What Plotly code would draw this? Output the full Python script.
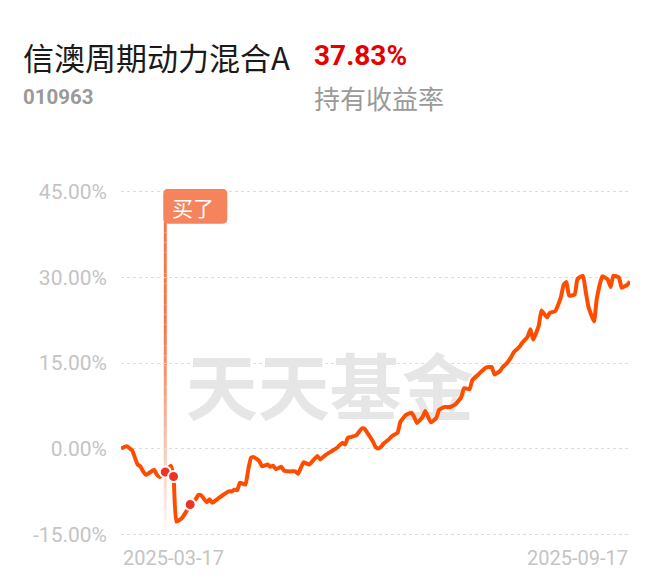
import plotly.graph_objects as go
import pandas as pd

# ---------------- data ----------------
dates = [
    "2025-03-17", "2025-03-19", "2025-03-21", "2025-03-23", "2025-03-24", "2025-03-25",
    "2025-03-26", "2025-03-28", "2025-03-29", "2025-03-30", "2025-03-31", "2025-04-02",
    "2025-04-04", "2025-04-05", "2025-04-06", "2025-04-08", "2025-04-10", "2025-04-11",
    "2025-04-13", "2025-04-14", "2025-04-15", "2025-04-17", "2025-04-18", "2025-04-19",
    "2025-04-21", "2025-04-23", "2025-04-25", "2025-04-26", "2025-04-27", "2025-04-28",
    "2025-04-29", "2025-05-01", "2025-05-02", "2025-05-03", "2025-05-04", "2025-05-06",
    "2025-05-07", "2025-05-09", "2025-05-10", "2025-05-11", "2025-05-12", "2025-05-14",
    "2025-05-15", "2025-05-17", "2025-05-19", "2025-05-20", "2025-05-21", "2025-05-22",
    "2025-05-24", "2025-05-27", "2025-05-28", "2025-05-30", "2025-06-01", "2025-06-03",
    "2025-06-05", "2025-06-06", "2025-06-07", "2025-06-08", "2025-06-10", "2025-06-12",
    "2025-06-13", "2025-06-14", "2025-06-16", "2025-06-17", "2025-06-18", "2025-06-19",
    "2025-06-20", "2025-06-22", "2025-06-23", "2025-06-25", "2025-06-26", "2025-06-28",
    "2025-06-30", "2025-07-01", "2025-07-02", "2025-07-04", "2025-07-05", "2025-07-07",
    "2025-07-09", "2025-07-10", "2025-07-12", "2025-07-14", "2025-07-16", "2025-07-18",
    "2025-07-19", "2025-07-21", "2025-07-22", "2025-07-24", "2025-07-25", "2025-07-27",
    "2025-07-29", "2025-07-30", "2025-08-01", "2025-08-02", "2025-08-03", "2025-08-05",
    "2025-08-06", "2025-08-08", "2025-08-09", "2025-08-11", "2025-08-12", "2025-08-13",
    "2025-08-15", "2025-08-16", "2025-08-18", "2025-08-19", "2025-08-21", "2025-08-23",
    "2025-08-24", "2025-08-25", "2025-08-26", "2025-08-28", "2025-08-29", "2025-08-31",
    "2025-09-01", "2025-09-02", "2025-09-04", "2025-09-05", "2025-09-07", "2025-09-09",
    "2025-09-10", "2025-09-11", "2025-09-13", "2025-09-14", "2025-09-16", "2025-09-17",
]
returns = [
    0.0, 0.4, -0.3, -2.8, -3.1, -4.0,
    -4.6, -4.0, -3.7, -4.6, -5.0, -4.1,
    -3.0, -4.9, -12.8, -12.2, -10.7, -9.8,
    -8.9, -8.1, -8.2, -9.4, -8.9, -9.5,
    -8.8, -8.1, -7.5, -7.5, -7.2, -7.3,
    -6.0, -6.3, -3.7, -1.6, -1.5, -2.2,
    -3.1, -2.8, -3.2, -3.0, -3.6, -3.2,
    -3.9, -4.0, -4.0, -4.4, -3.4, -2.4,
    -2.8, -1.3, -1.9, -1.1, -0.5, 0.1,
    1.0, 0.7, 1.9, 2.0, 2.3, 3.5,
    3.5, 2.8, 1.3, 0.3, 0.0, 0.3,
    0.9, 1.7, 2.2, 2.8, 4.7, 5.9,
    6.3, 5.5, 4.5, 5.5, 6.6, 4.6,
    5.4, 6.8, 7.3, 7.3, 7.8, 9.0,
    10.6, 10.4, 12.0, 12.9, 13.4, 14.2,
    14.3, 13.0, 13.6, 14.3, 14.7, 16.0,
    16.9, 17.8, 18.5, 19.6, 20.9, 19.1,
    21.5, 24.2, 23.0, 23.8, 24.1, 26.5,
    28.7, 29.2, 26.8, 27.0, 29.7, 30.3,
    27.5, 24.8, 22.3, 26.3, 30.2, 29.6,
    28.3, 30.3, 30.0, 28.2, 28.7, 29.3,
]
buy_date = "2025-04-02"
trade_dates = ["2025-04-02", "2025-04-05", "2025-04-11"]
y_ticks = [-15, 0, 15, 30, 45]
y_tick_labels = ["-15.00%", "0.00%", "15.00%", "30.00%", "45.00%"]
x_labels = ["2025-03-17", "2025-09-17"]

fund_name = "信澳周期动力混合A"
fund_code = "010963"
hold_return = "37.83%"
hold_label = "持有收益率"
buy_text = "买了"
watermark = "天天基金"

# ---------------- layout constants ----------------
OFF = 8                      # page body margin of the browser
W, H = 660 - OFF, 585 - OFF
L, R, T, B = 121 - OFF, 30, 189 - OFF, 48
PW, PH = W - L - R, H - T - B
Y_RANGE = [-15.5, 45.5]

def px_x(px):
    return (px - OFF - L) / PW

def px_y(py):
    return (H - B - (py - OFF)) / PH

def val_at_py(py):
    return Y_RANGE[1] - (py - OFF - T) / PH * (Y_RANGE[1] - Y_RANGE[0])

trade_vals = [returns[dates.index(d)] for d in trade_dates]

d0, d1 = pd.Timestamp(dates[0]), pd.Timestamp(dates[-1])
wm_x = d0 + (d1 - d0) * 0.41

fig = go.Figure()

# watermark (below the line)
fig.add_trace(go.Scatter(
    x=[wm_x], y=[val_at_py(396)], mode="text", text=[watermark],
    textfont=dict(family="Noto Sans CJK SC", size=72, color="#e6e6e6", weight="bold"),
    hoverinfo="skip", showlegend=False,
))

# main line
fig.add_trace(go.Scatter(
    x=dates, y=returns, mode="lines",
    line=dict(color="#ff4d00", width=4, shape="spline", smoothing=0.4),
    hoverinfo="skip", showlegend=False,
))

# trade dots
fig.add_trace(go.Scatter(
    x=trade_dates, y=trade_vals, mode="markers",
    marker=dict(color="#ee3322", size=11, line=dict(color="white", width=2)),
    hoverinfo="skip", showlegend=False,
))

shapes = []
# gradient buy line
top_v, bot_v = val_at_py(222), val_at_py(530)
n = 30
for i in range(n):
    a = top_v + (bot_v - top_v) * i / n
    b = top_v + (bot_v - top_v) * (i + 1) / n
    t = (i + 0.5) / n
    op = 1.0 if t < 0.35 else max(0.04, 1.0 - (t - 0.35) / 0.65 * 0.96)
    shapes.append(dict(type="line", xref="x", yref="y", x0=buy_date, x1=buy_date,
                       y0=a, y1=b, line=dict(color="#f47a4a", width=3),
                       opacity=op, layer="below"))

# rounded label box
x0, x1, y0, y1, r = -2, 62, -32, 3, 5
path = (f"M {x0+r},{y0} L {x1-r},{y0} Q {x1},{y0} {x1},{y0+r} L {x1},{y1-r} "
        f"Q {x1},{y1} {x1-r},{y1} L {x0+r},{y1} Q {x0},{y1} {x0},{y1-r} "
        f"L {x0},{y0+r} Q {x0},{y0} {x0+r},{y0} Z")
shapes.append(dict(type="path", xref="x", yref="y", xsizemode="pixel", ysizemode="pixel",
                   xanchor=buy_date, yanchor=45, path=path,
                   fillcolor="#f5845c", line=dict(width=0), layer="above"))

annotations = [
    dict(text=buy_text, x=buy_date, xref="x", y=px_y(206.5), yref="paper",
         xanchor="left", yanchor="middle", xshift=5, showarrow=False,
         font=dict(family="Noto Sans CJK SC", size=21, color="white")),
    dict(text=fund_name, x=px_x(21), y=px_y(57), xref="paper", yref="paper",
         xanchor="left", yanchor="middle", showarrow=False,
         font=dict(family="Noto Sans CJK SC", size=31, color="#1a1a1a")),
    dict(text=f"<b>{hold_return}</b>", x=px_x(312), y=px_y(55), xref="paper", yref="paper",
         xanchor="left", yanchor="middle", showarrow=False,
         font=dict(family="Roboto", size=28, color="#e60000")),
    dict(text=f"<b>{fund_code}</b>", x=px_x(21), y=px_y(97), xref="paper", yref="paper",
         xanchor="left", yanchor="middle", showarrow=False,
         font=dict(family="Roboto", size=20.5, color="#9a9a9a")),
    dict(text=hold_label, x=px_x(312), y=px_y(97), xref="paper", yref="paper",
         xanchor="left", yanchor="middle", showarrow=False,
         font=dict(family="Noto Sans CJK SC", size=26, color="#9a9a9a")),
    dict(text=x_labels[0], x=x_labels[0], xref="x", y=px_y(558), yref="paper",
         xanchor="left", yanchor="middle", showarrow=False,
         font=dict(family="Roboto", size=20, color="#c4c4c4")),
    dict(text=x_labels[1], x=x_labels[1], xref="x", y=px_y(558), yref="paper",
         xanchor="right", yanchor="middle", showarrow=False,
         font=dict(family="Roboto", size=20, color="#c4c4c4")),
]

fig.update_layout(
    width=W, height=H,
    margin=dict(l=L, r=R, t=T, b=B),
    paper_bgcolor="white", plot_bgcolor="white",
    shapes=shapes, annotations=annotations,
    showlegend=False, hovermode=False,
    xaxis=dict(type="date", range=[dates[0], dates[-1]], showgrid=False,
               showticklabels=False, zeroline=False, showline=False, fixedrange=True),
    yaxis=dict(range=Y_RANGE, tickvals=y_ticks, ticktext=y_tick_labels,
               showgrid=True, gridcolor="#dddddd", griddash="3px,3px", gridwidth=1,
               zeroline=False, showline=False, ticks="", ticklabelstandoff=13,
               tickfont=dict(family="Roboto", size=21, color="#c4c4c4"), fixedrange=True),
)

fig.write_html("out.html", config={"displayModeBar": False})
